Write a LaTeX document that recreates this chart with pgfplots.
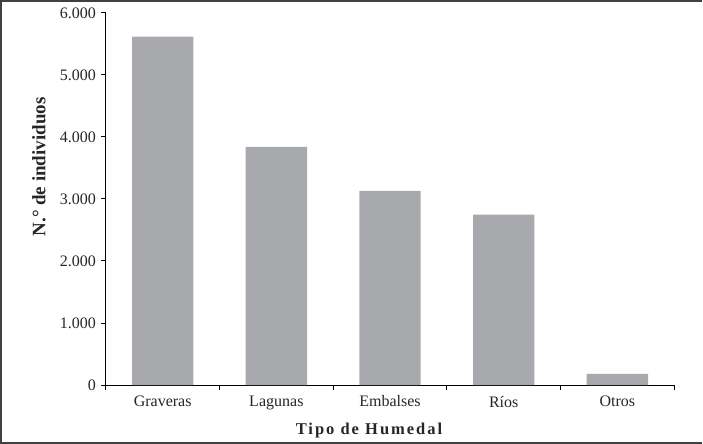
\documentclass[border=0pt]{standalone}
\usepackage{fontspec}
\setmainfont{Liberation Serif}
\usepackage{pgfplots}
\pgfplotsset{compat=1.18}
\definecolor{barc}{HTML}{A8A9AD}
\begin{document}
\fontsize{14bp}{16bp}\selectfont
\begin{tikzpicture}
\begin{axis}[
  scale only axis, width=568bp, height=372bp,
  xmin=-0.5, xmax=4.5, ymin=0, ymax=6000,
  axis x line*=bottom, axis y line*=left,
  axis line style={line width=0.9bp, black},
  xtick={0,1,2,3,4},
  xticklabels={Graveras,Lagunas,Embalses,Ríos,Otros},
  minor xtick={-0.5,0.5,1.5,2.5,3.5,4.5},
  major x tick style={draw=none},
  ytick={0,1000,2000,3000,4000,5000,6000},
  scaled y ticks=false,
  tick align=outside,
  major tick length=5bp, minor tick length=5bp,
  tick style={line width=0.9bp, black},
  /pgf/number format/assume math mode=true,
  /pgf/number format/1000 sep={.},
  ticklabel style={font=\fontsize{16bp}{18bp}\selectfont, text=black!85},
  xticklabel style={yshift=-1bp},
  yticklabel style={xshift=0bp},
]
\addplot[ybar, bar width=0.54, fill=barc, draw=none]
  coordinates {(0,5615) (1,3840) (2,3130) (3,2745) (4,180)};
\end{axis}
\begin{scope}[shift={(current axis.south west)}]
\draw[line width=1.6bp, black!75] (596bp,384bp) -- (-105bp,384bp) -- (-105bp,-58bp) -- (596bp,-58bp);
\node[rotate=90, font=\bfseries\fontsize{19bp}{21bp}\selectfont, text=black!85] at (-67bp,218bp) {N.° de individuos};
\node[font=\bfseries\fontsize{16.5bp}{19bp}\selectfont\addfontfeature{LetterSpace=12}, text=black!85] at (263bp,-45bp) {Tipo de Humedal};
\end{scope}
\end{tikzpicture}
\end{document}
